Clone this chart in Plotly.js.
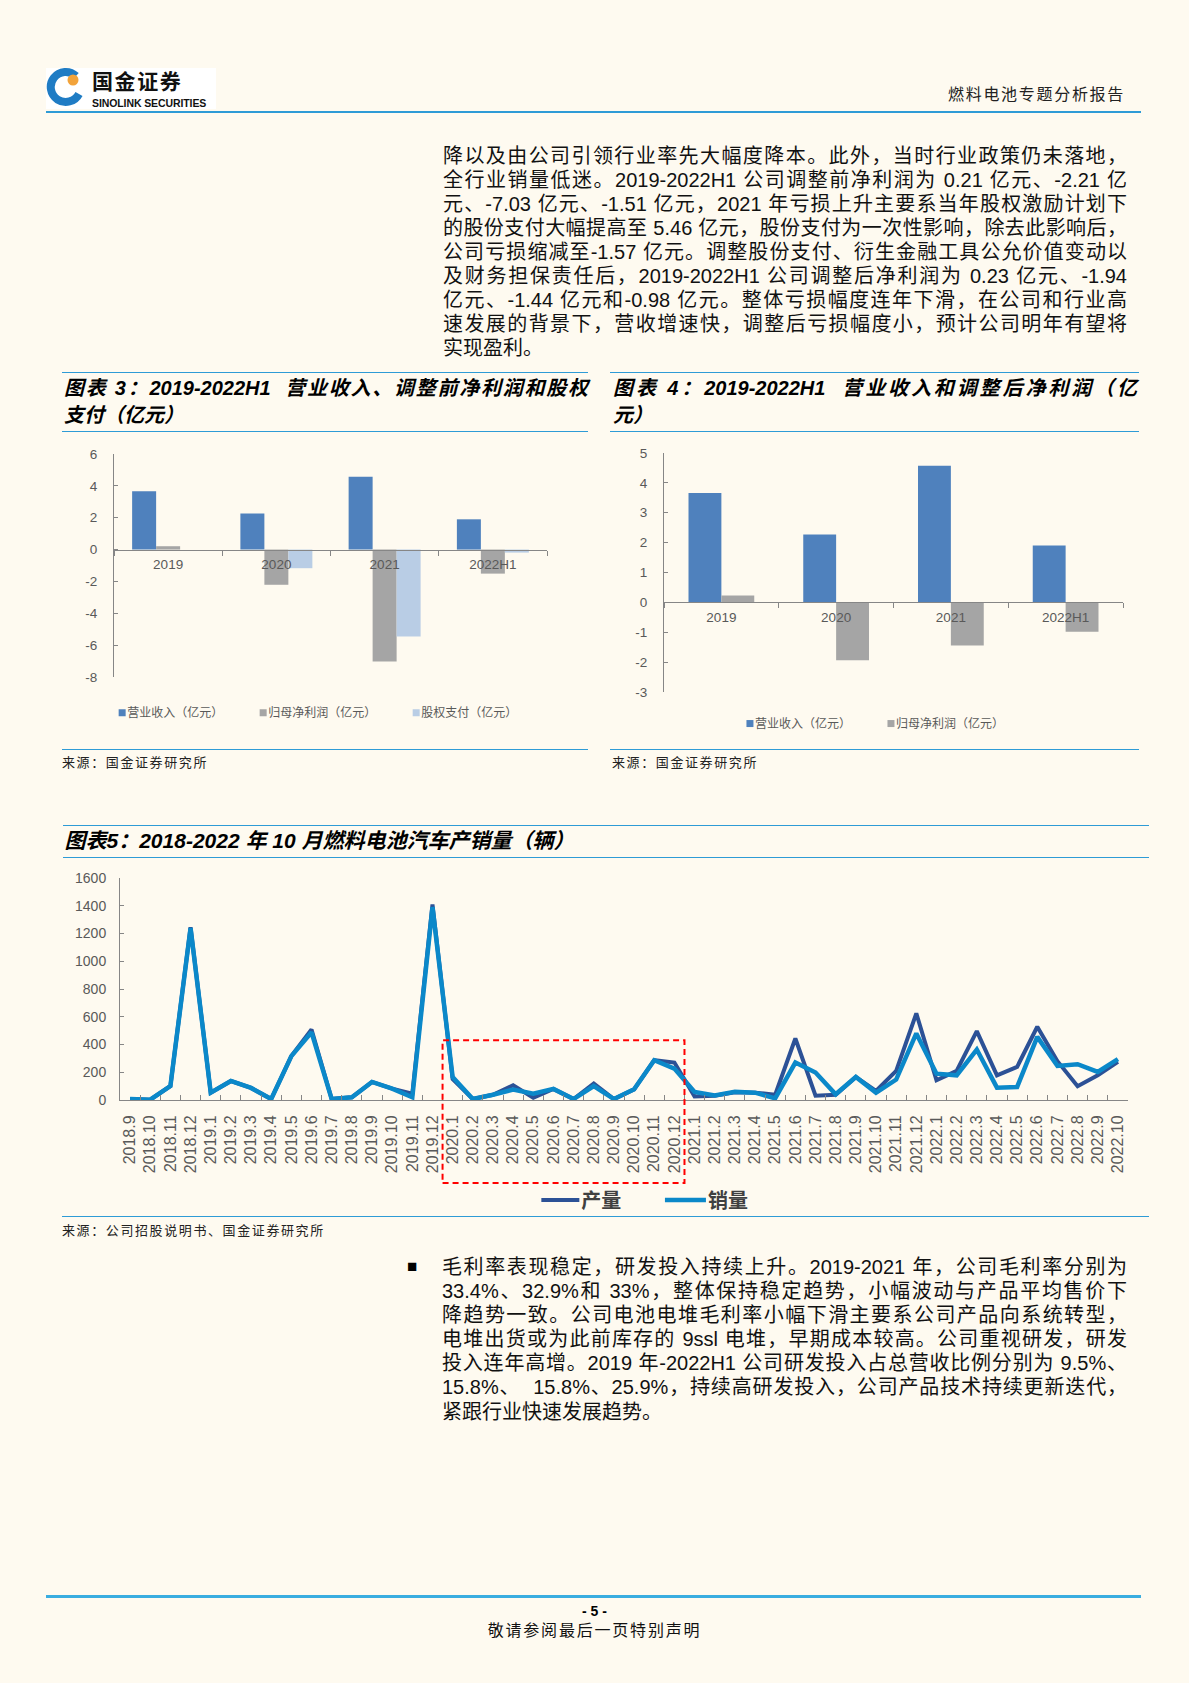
<!DOCTYPE html>
<html><head><meta charset="utf-8">
<script src="https://cdn.plot.ly/plotly-3.0.1.min.js"></script>
<style>
html,body{margin:0;padding:0;}
body{width:1189px;height:1683px;background:#FEFAF0;position:relative;overflow:hidden;font-family:"Liberation Sans","Noto Sans CJK SC",sans-serif;}
.hl{position:absolute;height:0;border-top:1.5px solid #2E9BD6;}
.para{position:absolute;left:443px;width:684px;font-size:20px;line-height:24.1px;color:#111;}
.para div{white-space:nowrap;}
.j{text-align:justify;text-align-last:justify;white-space:normal!important;}
.ttl{position:absolute;font-weight:bold;font-style:italic;font-size:20px;line-height:27px;color:#000;}
.src{position:absolute;font-size:13px;line-height:16px;color:#222;letter-spacing:1.6px;}
.chart{position:absolute;}
</style></head>
<body>
<!-- header -->
<div style="position:absolute;left:46px;top:67.6px;width:170px;height:41px;background:#fff;"></div>
<svg style="position:absolute;left:46px;top:67px;" width="40" height="42">
  <path d="M 30 9 A 15 15 0 1 0 33 27" fill="none" stroke="#1F7CC4" stroke-width="8"/>
  <circle cx="27" cy="13" r="5.5" fill="#F2A33A"/>
</svg>
<div style="position:absolute;left:92px;top:70px;font-size:21px;font-weight:bold;color:#111;line-height:21px;font-family:'Noto Sans CJK SC';letter-spacing:1.6px;">国金证券</div>
<div style="position:absolute;left:92px;top:97.5px;font-size:10.5px;font-weight:bold;color:#111;line-height:11px;letter-spacing:-0.1px;">SINOLINK SECURITIES</div>
<div style="position:absolute;right:64px;top:85px;font-size:16px;line-height:20px;color:#222;letter-spacing:1.7px;">燃料电池专题分析报告</div>
<div class="hl" style="left:46px;width:1095px;top:110.8px;border-top-width:2px;"></div>

<!-- body paragraph -->
<div class="para" style="top:143.5px;">
<div class="j">降以及由公司引领行业率先大幅度降本。此外，当时行业政策仍未落地，</div>
<div class="j">全行业销量低迷。2019-2022H1 公司调整前净利润为 0.21 亿元、-2.21 亿</div>
<div class="j">元、-7.03 亿元、-1.51 亿元，2021 年亏损上升主要系当年股权激励计划下</div>
<div class="j">的股份支付大幅提高至 5.46 亿元，股份支付为一次性影响，除去此影响后，</div>
<div class="j">公司亏损缩减至-1.57 亿元。调整股份支付、衍生金融工具公允价值变动以</div>
<div class="j">及财务担保责任后，2019-2022H1 公司调整后净利润为 0.23 亿元、-1.94</div>
<div class="j">亿元、-1.44 亿元和-0.98 亿元。整体亏损幅度连年下滑，在公司和行业高</div>
<div class="j">速发展的背景下，营收增速快，调整后亏损幅度小，预计公司明年有望将</div>
<div>实现盈利。</div>
</div>

<!-- chart 3 title -->
<div class="hl" style="left:62px;width:526px;top:372px;"></div>
<div class="ttl" style="left:64px;width:524px;top:374.5px;">
<div class="j">图表 3：2019-2022H1&nbsp; 营业收入、调整前净利润和股权</div>
<div>支付（亿元）</div>
</div>
<div class="hl" style="left:62px;width:526px;top:430.5px;"></div>
<div id="c3" class="chart" style="left:62px;top:440px;width:528px;height:300px;"></div>
<div class="hl" style="left:62px;width:526px;top:749px;"></div>
<div class="src" style="left:62px;top:755px;">来源：国金证券研究所</div>

<!-- chart 4 title -->
<div class="hl" style="left:610px;width:529px;top:372px;"></div>
<div class="ttl" style="left:613px;width:524px;top:374.5px;">
<div class="j">图表 4：2019-2022H1&nbsp; 营业收入和调整后净利润（亿</div>
<div>元）</div>
</div>
<div class="hl" style="left:610px;width:529px;top:430.5px;"></div>
<div id="c4" class="chart" style="left:610px;top:440px;width:530px;height:300px;"></div>
<div class="hl" style="left:610px;width:529px;top:749px;"></div>
<div class="src" style="left:612px;top:755px;">来源：国金证券研究所</div>

<!-- chart 5 -->
<div class="hl" style="left:63px;width:1086px;top:825px;"></div>
<div class="ttl" style="left:64.5px;top:826.5px;font-size:21px;letter-spacing:0px;">图表5：2018-2022 年 10 月燃料电池汽车产销量（辆）</div>
<div class="hl" style="left:63px;width:1086px;top:856.5px;"></div>
<div id="c5" class="chart" style="left:62px;top:862px;width:1088px;height:354px;"></div>
<div class="hl" style="left:62px;width:1087px;top:1216px;"></div>
<div class="src" style="left:62px;top:1223px;">来源：公司招股说明书、国金证券研究所</div>

<!-- bottom paragraph -->
<div style="position:absolute;left:407px;top:1255px;font-size:17px;line-height:24px;color:#000;">■</div>
<div class="para" style="left:442px;width:685px;top:1255px;">
<div class="j">毛利率表现稳定，研发投入持续上升。2019-2021 年，公司毛利率分别为</div>
<div class="j">33.4%、32.9%和 33%，整体保持稳定趋势，小幅波动与产品平均售价下</div>
<div class="j">降趋势一致。公司电池电堆毛利率小幅下滑主要系公司产品向系统转型，</div>
<div class="j">电堆出货或为此前库存的 9ssl 电堆，早期成本较高。公司重视研发，研发</div>
<div class="j">投入连年高增。2019 年-2022H1 公司研发投入占总营收比例分别为 9.5%、</div>
<div class="j">15.8%、&nbsp; 15.8%、25.9%，持续高研发投入，公司产品技术持续更新迭代，</div>
<div>紧跟行业快速发展趋势。</div>
</div>

<!-- footer -->
<div class="hl" style="left:46px;width:1095px;top:1595px;border-top:3px solid #3AADE0;"></div>
<div style="position:absolute;left:0;width:1189px;top:1602px;text-align:center;font-size:14px;font-weight:bold;line-height:18px;color:#000;">- 5 -</div>
<div style="position:absolute;left:0;width:1189px;top:1621px;text-align:center;font-size:16px;line-height:20px;color:#111;letter-spacing:1.8px;">敬请参阅最后一页特别声明</div>

<script>
// ---------- data ----------
const finCategories = ['2019', '2020', '2021', '2022H1'];
const revenue = [3.66, 2.27, 4.57, 1.90];
const netProfitBefore = [0.21, -2.21, -7.03, -1.51];
const sharePayment = [0, -1.17, -5.46, -0.19];
const netProfitAdjusted = [0.23, -1.94, -1.44, -0.98];
const c3TickVals = [6, 4, 2, 0, -2, -4, -6, -8];
const c3TickText = ['6', '4', '2', '0', '-2', '-4', '-6', '-8'];
const c4TickVals = [5, 4, 3, 2, 1, 0, -1, -2, -3];
const c4TickText = ['5', '4', '3', '2', '1', '0', '-1', '-2', '-3'];

const months = ['2018.9','2018.10','2018.11','2018.12',
  '2019.1','2019.2','2019.3','2019.4','2019.5','2019.6','2019.7','2019.8','2019.9','2019.10','2019.11','2019.12',
  '2020.1','2020.2','2020.3','2020.4','2020.5','2020.6','2020.7','2020.8','2020.9','2020.10','2020.11','2020.12',
  '2021.1','2021.2','2021.3','2021.4','2021.5','2021.6','2021.7','2021.8','2021.9','2021.10','2021.11','2021.12',
  '2022.1','2022.2','2022.3','2022.4','2022.5','2022.6','2022.7','2022.8','2022.9','2022.10'];
const production = [7, 2, 101, 1245,
  53, 137, 87, 7, 316, 508, 7, 20, 130, 82, 45, 1410,
  150, 7, 38, 106, 17, 80, 7, 118, 7, 77, 287, 270,
  26, 31, 56, 53, 38, 443, 31, 38, 166, 65, 210, 624,
  142, 210, 496, 178, 239, 528, 280, 99, 178, 275];
const sales = [7, 2, 101, 1240,
  53, 137, 87, 7, 316, 488, 7, 20, 130, 82, 20, 1390,
  165, 7, 38, 75, 46, 80, 7, 101, 7, 77, 287, 226,
  58, 32, 60, 53, 12, 270, 198, 41, 166, 53, 147, 480,
  190, 178, 364, 89, 94, 455, 246, 258, 202, 294];
const c5TickVals = [0, 200, 400, 600, 800, 1000, 1200, 1400, 1600];
const highlightStart = '2020.1', highlightEnd = '2020.12', highlightTop = 430;

// ---------- style ----------
const FONT = 'Liberation Sans, Noto Sans CJK SC, sans-serif';
const AX = '#868686', TXT = '#595959';
const cBlue = '#4F81BD', cGray = '#A5A5A5', cLight = '#B9CDE5';
const cfg = {staticPlot: true, displayModeBar: false};

function barTrace(name, y, color) {
  return {type: 'bar', name: name, x: finCategories, y: y,
    marker: {color: color, line: {width: 0}}, hoverinfo: 'skip'};
}
function finLayout(w, h, m, vals, txt, bargap, legX, legY) {
  const lo = Math.min(...vals), hi = Math.max(...vals);
  return {
    width: w, height: h, margin: Object.assign({autoexpand: false}, m),
    paper_bgcolor: 'rgba(0,0,0,0)', plot_bgcolor: 'rgba(0,0,0,0)',
    font: {family: FONT, color: TXT},
    barmode: 'group', bargap: bargap, bargroupgap: 0,
    showlegend: true,
    legend: {orientation: 'h', x: legX, xanchor: 'left', y: legY, yanchor: 'middle',
      font: {size: 12, color: TXT, family: 'Noto Sans CJK SC'}, bgcolor: 'rgba(0,0,0,0)',
      traceorder: 'normal'},
    xaxis: {type: 'category', anchor: 'free', position: (0 - lo) / (hi - lo),
      showline: true, linecolor: AX, linewidth: 1, ticks: 'outside', ticklen: 5, tickcolor: AX,
      tickson: 'boundaries', tickfont: {size: 13.5, color: TXT}, showgrid: false, zeroline: false,
      ticklabelstandoff: 2},
    yaxis: {range: [lo, hi], tickmode: 'array', tickvals: vals, ticktext: txt,
      showline: true, linecolor: AX, linewidth: 1, ticks: 'inside', ticklen: 4, tickcolor: AX,
      showgrid: false, zeroline: false, tickfont: {size: 13.5, color: TXT}, ticklabelstandoff: 13}
  };
}

// shrink bar legend squares and move them next to their text, as in the reference
function tightenBarLegend(id) {
  document.querySelectorAll('#' + id + ' .legendpoints path').forEach(function(p) {
    p.setAttribute('d', 'M3.5,3.5H-3.5V-3.5H3.5Z');
    var t = p.getAttribute('transform') || '';
    var m = t.match(/translate\(([-\d.]+)[ ,]+([-\d.]+)\)/);
    var bx = m ? parseFloat(m[1]) : 20, by = m ? parseFloat(m[2]) : 0;
    p.setAttribute('transform', 'translate(' + (bx + 15) + ',' + by + ')');
  });
}
function lengthenLineLegend(id) {
  document.querySelectorAll('#' + id + ' .legendlines path').forEach(function(p) {
    p.setAttribute('d', 'M-3,0h41');
  });
}

Plotly.newPlot('c3', [
  barTrace('营业收入（亿元）', revenue, cBlue),
  barTrace('归母净利润（亿元）', netProfitBefore, cGray),
  barTrace('股权支付（亿元）', sharePayment, cLight)
], finLayout(528, 300, {l: 52.2, r: 42.6, t: 14, b: 62.7, pad: 0}, c3TickVals, c3TickText, 0.335, -0.062, -0.16), cfg)
.then(function() { tightenBarLegend('c3'); });

Plotly.newPlot('c4', [
  barTrace('营业收入（亿元）', revenue, cBlue),
  barTrace('归母净利润（亿元）', netProfitAdjusted, cGray)
], finLayout(530, 300, {l: 53.5, r: 17.4, t: 12.7, b: 47.7, pad: 0}, c4TickVals, c4TickText, 0.427, 0.111, -0.132), cfg)
.then(function() { tightenBarLegend('c4'); });

const yMax5 = Math.max(...c5TickVals);
Plotly.newPlot('c5', [
  {type: 'scatter', mode: 'lines', name: '产量', x: months, y: production,
    line: {color: '#2C5196', width: 4}, hoverinfo: 'skip'},
  {type: 'scatter', mode: 'lines', name: '销量', x: months, y: sales,
    line: {color: '#0B88C9', width: 4.5}, hoverinfo: 'skip'}
], {
  width: 1088, height: 354, margin: {l: 57.7, r: 22.3, t: 16.3, b: 116, pad: 0, autoexpand: false},
  paper_bgcolor: 'rgba(0,0,0,0)', plot_bgcolor: 'rgba(0,0,0,0)',
  font: {family: FONT, color: TXT},
  showlegend: true,
  legend: {orientation: 'h', x: 0.418, xanchor: 'left', y: -0.451, yanchor: 'middle',
    font: {size: 20, color: '#404040', family: 'Noto Sans CJK SC', weight: 'bold'},
    entrywidth: 81.6, entrywidthmode: 'pixels', bgcolor: 'rgba(0,0,0,0)'},
  xaxis: {type: 'category', range: [-0.5, months.length - 0.5], tickangle: -90,
    showline: true, linecolor: AX, linewidth: 1, ticks: 'inside', ticklen: 5, tickcolor: AX,
    tickson: 'boundaries', tickfont: {size: 16, color: TXT}, showgrid: false, zeroline: false,
    ticklabelstandoff: 8},
  yaxis: {range: [0, yMax5], tickmode: 'array', tickvals: c5TickVals,
    showline: true, linecolor: AX, linewidth: 1, ticks: 'inside', ticklen: 4, tickcolor: AX,
    showgrid: false, zeroline: false, tickfont: {size: 14, color: TXT}, ticklabelstandoff: 10},
  shapes: [{type: 'rect', xref: 'x', yref: 'paper',
    x0: months.indexOf(highlightStart) - 0.5, x1: months.indexOf(highlightEnd) + 0.5,
    y0: -0.374, y1: highlightTop / yMax5,
    line: {color: '#FF0000', width: 2, dash: '6px,4px'}, fillcolor: 'rgba(0,0,0,0)'}]
}, cfg).then(function() { lengthenLineLegend('c5'); });
</script>
</body></html>
